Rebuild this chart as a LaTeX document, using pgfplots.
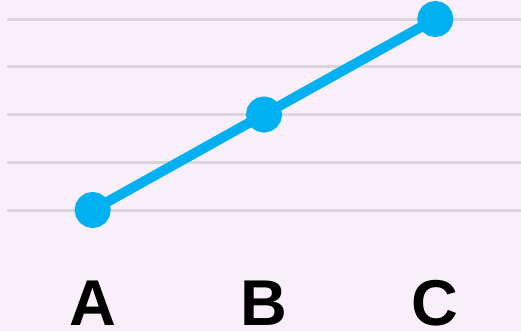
\documentclass[border=0pt]{standalone}
\usepackage{pgfplots}
\pgfplotsset{compat=1.18}
\usepackage{fontspec}
\setmainfont{Liberation Sans}
\definecolor{bgpink}{HTML}{F9EFFA}
\definecolor{gridgray}{HTML}{DAD6DB}
\definecolor{lineblue}{HTML}{00B0F0}
\begin{document}
\begin{tikzpicture}[x=1bp,y=1bp]
\fill[bgpink] (0,0) rectangle (521,331);
\useasboundingbox (0,0) rectangle (521,331);
\begin{axis}[
  at={(7bp,73.25bp)}, anchor=south west,
  scale only axis, width=514bp, height=257.75bp,
  xmin=-0.5, xmax=2.5, ymin=0, ymax=5.398,
  axis line style={draw=none},
  major tick length=0pt,
  xtick={0,1,2}, xticklabels={A,B,C},
  ytick={1,2,3,4,5}, yticklabels={},
  ymajorgrids, grid style={gridgray, line width=3bp},
  xticklabel style={anchor=base, yshift=-67.5bp, inner sep=0pt,
    font=\bfseries\fontsize{65}{65}\selectfont},
  clip=false,
]
\addplot[lineblue, line width=10bp, mark=*, mark size=13bp,
  mark options={fill=lineblue, draw=none}]
  coordinates {(0,1) (1,3) (2,5)};
\end{axis}
\end{tikzpicture}
\end{document}
